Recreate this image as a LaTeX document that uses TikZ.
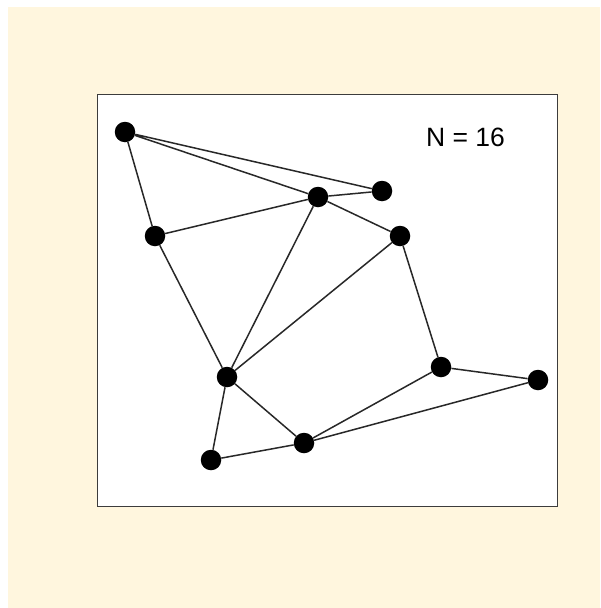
\documentclass[tikz,border=0pt]{standalone}
\usepackage{fontspec}
\setmainfont{Liberation Sans}
\definecolor{cream}{RGB}{255,246,222}
\definecolor{boxline}{RGB}{60,60,60}
\definecolor{edgecol}{RGB}{40,40,40}
\tikzset{
  vtx/.style={circle,fill=black,inner sep=0pt,minimum size=20.5pt},
  edg/.style={draw=edgecol,line width=1.5pt},
}
\begin{document}
\begin{tikzpicture}[x=1pt,y=-1pt]
\useasboundingbox (0,0) rectangle (600,608);
\fill[white] (0,0) rectangle (600,608);
\fill[cream] (8,7) rectangle (600,608);
\draw[boxline,line width=1pt,fill=white] (97,94) rectangle (557.5,506.5);
\node[vtx] (a) at (125,132) {};
\node[vtx] (b) at (318,197) {};
\node[vtx] (c) at (382,191) {};
\node[vtx] (d) at (155,236) {};
\node[vtx] (e) at (400,236) {};
\node[vtx] (f) at (227,377) {};
\node[vtx] (g) at (441,367) {};
\node[vtx] (h) at (538,380) {};
\node[vtx] (i) at (304,443) {};
\node[vtx] (j) at (211,460) {};
\path[edg] (a) -- (b) (a) -- (c) (a) -- (d) (b) -- (c) (b) -- (d) (b) -- (e)
  (b) -- (f) (e) -- (f) (e) -- (g) (d) -- (f) (g) -- (h) (g) -- (i)
  (h) -- (i) (f) -- (i) (f) -- (j) (j) -- (i);
\node[font=\fontsize{26.5}{30}\selectfont,inner sep=0pt] (lbl) at (465.5,137) {N = 16};
\end{tikzpicture}
\end{document}
